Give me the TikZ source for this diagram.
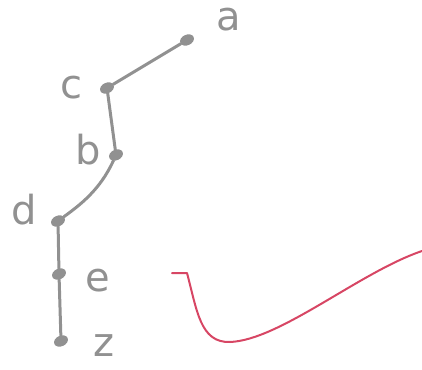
\documentclass[tikz,border=0pt]{standalone}
\usepackage{fontspec}
\setmainfont{DejaVu Sans}
\usetikzlibrary{shapes.geometric}
\begin{document}
\begin{tikzpicture}[x=1pt,y=-1pt,
  vtx/.style={ellipse,draw=pengray,fill=pengray,line width=1.5pt,minimum width=13pt,minimum height=9pt,inner sep=0pt,rotate=25},
  lbl/.style={text=pengray,font=\fontsize{40}{40}\selectfont,inner sep=0pt},
  edge/.style={draw=pengray,line width=3pt,line cap=round}]
\definecolor{pengray}{RGB}{145,145,145}
\definecolor{penred}{RGB}{215,70,100}
\path[use as bounding box] (0,0) rectangle (422,369);
\node[vtx] (a) at (187,40) {};
\node[vtx] (c) at (107,88) {};
\node[vtx] (b) at (116,155) {};
\node[vtx] (d) at (58,221) {};
\node[vtx] (e) at (59,274) {};
\node[vtx] (z) at (61,341) {};
\node[lbl] (la) at (229,20) {a};
\node[lbl] (lc) at (71,88) {c};
\node[lbl] (lb) at (88,150) {b};
\node[lbl] (ld) at (24,210) {d};
\node[lbl] (le) at (98,281) {e};
\node[lbl] (lz) at (104,346) {z};
\draw[edge] (a) -- (c);
\draw[edge] (c) -- (b);
\draw[edge] (b) .. controls (100,190) and (80,205) .. (d);
\draw[edge] (d) -- (e);
\draw[edge] (e) -- (z);
\coordinate (r0) at (172,273);
\coordinate (r1) at (187,273);
\coordinate (r2) at (230,342);
\coordinate (r3) at (422,251);
\draw[penred,line width=2pt,line cap=round,line join=round]
  (r0) -- (r1) .. controls (197,310) and (200,343) .. (r2)
  .. controls (280,340) and (360,272) .. (r3);
\end{tikzpicture}
\end{document}
